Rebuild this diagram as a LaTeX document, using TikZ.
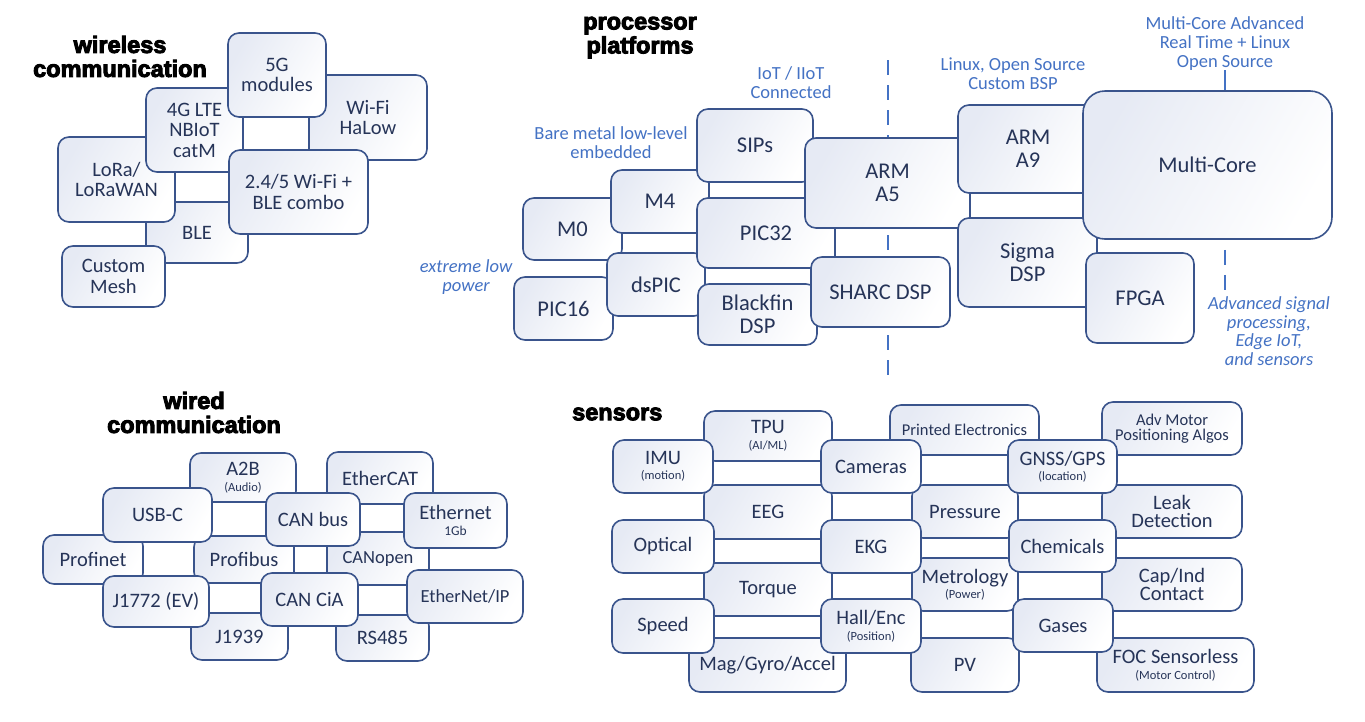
\documentclass[tikz,border=0pt]{standalone}
\usepackage{fontspec}
\setmainfont{Carlito}
\newfontfamily\headfont{Liberation Sans Bold}[FakeBold=4]
\definecolor{bord}{RGB}{58,84,140}
\definecolor{txt}{RGB}{38,52,88}
\definecolor{anno}{RGB}{68,114,196}
\definecolor{shd}{RGB}{230,234,244}
\newcommand\fs[2]{\fontsize{#1}{#2}\selectfont\lineskiplimit=-30pt\relax}
\newcommand\sub[1]{{\fs{12.5}{13}#1}}
\newcommand\Bx[7][]{\node[bx,minimum width={#5-#3},minimum height={#6-#4},#1] (#2) at ({(#3+#5)/2},{(#4+#6)/2}) {#7};}
\begin{document}
\begin{tikzpicture}[x=1pt,y=-1pt,
  bx/.style={draw=bord, line width=1.6pt, rounded corners=11pt, top color=shd, bottom color=white, shading angle=60, inner sep=0pt, align=center, text=txt, font=\fs{20.5}{20.5}},
  proc/.style={font=\fs{22.5}{23}},
  wsub/.style={font=\fs{20.5}{15.5}},
  small/.style={font=\fs{18.5}{19}},
  tight/.style={font=\fs{20.5}{18}},
  tiny/.style={font=\fs{16.5}{14.5}},
  head/.style={align=center, inner sep=0pt, text=black, font=\headfont\fs{23.5}{24}},
  anno/.style={text=anno, align=center, inner sep=0pt, font=\fs{18.5}{18.7}},
  annoit/.style={anno, font=\fs{18.5}{18.7}\itshape},
  divline/.style={draw=anno, line width=1.8pt, dash pattern=on 15pt off 10pt},
  solidline/.style={draw=anno, line width=1.8pt}]
\fill[white] (0,0) rectangle (1365,721);
\useasboundingbox (0,0) rectangle (1365,721);

% ---------------- headings ----------------
\node[head] (hwl) at (120,56.5) {wireless\\communication};
\node[head] (hpp) at (640,37.5) {processor\\platforms};
\node[head] (hwd) at (194,412.5) {wired\\communication};
\node[head,anchor=west] (hsn) at (572,414) {sensors};

% ---------------- annotations ----------------
\node[anno] (iot) at (791,82.5) {IoT / IIoT\\Connected};
\node[anno] (bare) at (611,142.5) {Bare metal low-level\\embedded};
\node[annoit] (xlow) at (466,277) {extreme low\\power};
\node[anno] (linux) at (1013,74) {Linux, Open Source\\Custom BSP};
\node[anno] (mca) at (1225,43.5) {Multi-Core Advanced\\Real Time + Linux\\Open Source};
\node[annoit] (advsig) at (1269,331) {Advanced signal\\processing,\\Edge IoT,\\and sensors};

% divider line
\coordinate (divtop) at (888,60);
\coordinate (divbot) at (888,377);
\draw[divline] (divtop) -- (divbot);

% ---------------- wireless ----------------
\Bx{halow}{309}{75}{427}{160}{Wi-Fi\\HaLow}
\Bx{ble}{146}{202}{248}{263}{BLE}
\Bx{lora}{58}{137}{175}{222}{LoRa/\\LoRaWAN}
\Bx{g4}{146}{88}{243}{172}{4G LTE\\NBIoT\\catM}
\Bx{g5}{228}{33}{326}{117}{5G\\modules}
\Bx{combo}{229}{150}{368}{234}{2.4/5 Wi-Fi +\\BLE combo}
\Bx{mesh}{62}{246}{165}{307}{Custom\\Mesh}

% ---------------- processors ----------------
\Bx[proc]{m0}{523}{198}{622}{260}{M0}
\Bx[proc]{pic16}{514}{277}{613}{340}{PIC16}
\Bx[proc]{m4}{611}{170}{709}{233}{M4}
\Bx[proc]{dspic}{607}{253}{705}{316}{dsPIC}
\Bx[proc]{sips}{697}{109}{813}{182}{SIPs}
\Bx[proc]{pic32}{697}{198}{835}{268}{PIC32}
\Bx[proc]{blackfin}{698}{284}{817}{345}{Blackfin\\DSP}
\Bx[proc]{arma5}{805}{138}{970}{228}{ARM\\A5}
\Bx[proc]{sharc}{811}{257}{950}{327}{SHARC DSP}
\Bx[proc]{arma9}{958}{105}{1098}{193}{ARM\\A9}
\Bx[proc]{sigma}{958}{218}{1097}{307}{Sigma\\DSP}
\draw[solidline] (mca.south) -- (mca.south |- 0,91);
\Bx[proc,rounded corners=22pt]{mc}{1083}{91}{1332}{239}{Multi-Core}
\Bx[proc]{fpga}{1086}{253}{1194}{343}{FPGA}
\coordinate (mcdash) at (mca.south |- mc.south);
\draw[divline, dash phase=15pt] (mcdash) -- ++(0,51);

% ---------------- wired ----------------
\Bx[wsub]{a2b}{190}{453}{296}{502}{A2B\\\sub{(Audio)}}
\Bx{ethercat}{327}{452}{433}{504}{EtherCAT}
\Bx{profinet}{43}{535}{143}{584}{Profinet}
\Bx{profibus}{194}{536}{294}{583}{Profibus}
\Bx[small]{canopen}{327}{532}{429}{585}{CANopen}
\Bx{j1939}{191}{613}{288}{660}{J1939}
\Bx{rs485}{336}{615}{429}{661}{RS485}
\Bx{usbc}{103}{488}{212}{542}{USB-C}
\Bx{canbus}{266}{493}{360}{546}{CAN bus}
\Bx[wsub]{eth}{404}{493}{507}{548}{Ethernet\\{\fs{13.5}{14}1Gb}}
\Bx{j1772}{103}{576}{209}{627}{J1772 (EV)}
\Bx{cancia}{261}{573}{358}{626}{CAN CiA}
\Bx[small]{ethip}{407}{570}{523}{623}{EtherNet/IP}

% ---------------- sensors ----------------
\Bx[wsub]{tpu}{704}{411}{832}{461}{TPU\\\sub{(AI/ML)}}
\Bx{eeg}{704}{485}{832}{539}{EEG}
\Bx{torque}{704}{563}{832}{616}{Torque}
\Bx{mag}{689}{638}{846}{692}{Mag/Gyro/Accel}
\Bx[font=\fs{16.5}{17}]{printed}{890}{405}{1039}{455}{Printed Electronics}
\Bx{pressure}{912}{485}{1018}{538}{Pressure}
\Bx[wsub]{metro}{912}{558}{1018}{611}{Metrology\\\sub{(Power)}}
\Bx{pv}{911}{638}{1019}{692}{PV}
\Bx[tiny]{advmotor}{1102}{402}{1242}{455}{Adv Motor\\Positioning Algos}
\Bx[tight]{leak}{1102}{485}{1242}{538}{Leak\\Detection}
\Bx[tight]{capind}{1102}{558}{1242}{611}{Cap/Ind\\Contact}
\Bx[wsub]{foc}{1097}{638}{1254}{692}{FOC Sensorless\\\sub{(Motor Control)}}
\Bx[wsub]{imu}{613}{440}{713}{493}{IMU\\\sub{(motion)}}
\Bx{optical}{612}{520}{714}{573}{Optical}
\Bx{speed}{612}{599}{714}{653}{Speed}
\Bx{cameras}{821}{440}{921}{493}{Cameras}
\Bx{ekg}{821}{520}{921}{573}{EKG}
\Bx[wsub]{hall}{821}{599}{921}{653}{Hall/Enc\\\sub{(Position)}}
\Bx[wsub]{gnss}{1008}{440}{1117}{493}{GNSS/GPS\\\sub{(location)}}
\Bx{chem}{1009}{520}{1116}{572}{Chemicals}
\Bx{gases}{1013}{599}{1113}{652}{Gases}
\end{tikzpicture}
\end{document}
